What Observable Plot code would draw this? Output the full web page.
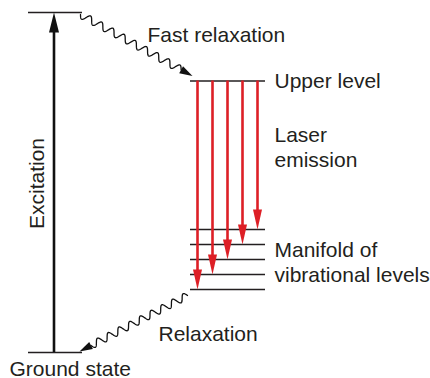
<!DOCTYPE html>
<html><head><meta charset="utf-8">
<script src="https://cdn.jsdelivr.net/npm/d3@7"></script>
<script src="https://cdn.jsdelivr.net/npm/@observablehq/plot@0.6"></script>
<style>
html,body{margin:0;padding:0;background:#fff;}
#chart{width:430px;height:378px;}
</style>
</head><body><div id="chart"></div>
<script>
// ---------- data (energies in arbitrary units) ----------
const groundEnergy = 0;
const pumpEnergy = 340;
const upperEnergy = 271.5;
const manifoldEnergies = [123, 108, 93, 78, 63];
const emissionTargets = [63, 78, 93, 108, 123];   // leftmost arrow goes lowest
const levelLabels = ["Upper level", "Manifold of\nvibrational levels", "Ground state"];
const processLabels = ["Excitation", "Fast relaxation", "Laser\nemission", "Relaxation"];

// ---------- layout ----------
const W = 430, H = 378;
const pumpCol = [28, 82];
const laserCol = [190, 265];
const excitationX = 53.5;
const emissionX = [197, 212, 227, 242, 257];
const ink = "#231f20";
const red = "#dd1f26";
const font = "'Liberation Sans', Arial, Helvetica, sans-serif";

// filled arrowhead symbol, tip at the anchor, pointing up at rotate 0
function headSymbol(len, wid) {
  return {draw(ctx) {
    ctx.moveTo(0, 0); ctx.lineTo(wid / 2, len); ctx.lineTo(-wid / 2, len); ctx.closePath();
  }};
}

// wavy (squiggle) connector drawn in data units (1 unit = 1 px on both axes)
function squiggle(p0, tip, headLen, periods, amp) {
  const dx = tip[0] - p0[0], dy = -(tip[1] - p0[1]);
  const L = Math.hypot(dx, dy), ux = dx / L, uy = dy / L, nx = -uy, ny = ux;
  const Lw = L - headLen, N = 300, pts = [];
  for (let i = 0; i <= N; i++) {
    const s = (i / N) * Lw, o = amp * Math.sin(2 * Math.PI * periods * i / N);
    pts.push({x: p0[0] + ux * s + nx * o, E: -(-p0[1] + uy * s + ny * o)});
  }
  return {pts, tip: {x: tip[0], E: tip[1]}, angle: Math.atan2(ux, -uy) * 180 / Math.PI};
}

const levels = [
  {E: pumpEnergy, x1: pumpCol[0], x2: pumpCol[1]},
  {E: groundEnergy, x1: pumpCol[0], x2: pumpCol[1]},
  {E: upperEnergy, x1: laserCol[0], x2: laserCol[1]},
  ...manifoldEnergies.map(E => ({E, x1: laserCol[0], x2: laserCol[1]}))
];
const emissions = emissionTargets.map((E, i) => ({x: emissionX[i], E0: upperEnergy, E1: E}));

const fast = squiggle([80, pumpEnergy - 2], [192, upperEnergy + 5], 13, 9, 3.6);
const slow = squiggle([187, manifoldEnergies[4] - 6], [79, groundEnergy + 1], 13, 9, 3.6);

const labels = [
  {t: levelLabels[0], x: 274, E: upperEnergy, anchor: "start", line: "middle", rot: 0},
  {t: levelLabels[1], x: 274, E: 70.3, anchor: "start", line: "bottom", rot: 0, lh: 1.19},
  {t: levelLabels[2], x: 9, E: -23, anchor: "start", line: "bottom", rot: 0},
  {t: processLabels[0], x: 43.5, E: 169, anchor: "middle", line: "bottom", rot: -90},
  {t: processLabels[1], x: 147, E: 310.5, anchor: "start", line: "bottom", rot: 0},
  {t: processLabels[2], x: 274, E: 186, anchor: "start", line: "bottom", rot: 0, lh: 1.17},
  {t: processLabels[3], x: 158, E: 12, anchor: "start", line: "bottom", rot: 0}
];

const textMarks = labels.map(d => Plot.text([d], {
  x: "x", y: "E", text: "t", textAnchor: d.anchor, lineAnchor: d.line, rotate: d.rot,
  lineHeight: d.lh || 1, fontSize: 21, fontFamily: font, fill: ink
}));

const chart = Plot.plot({
  width: W, height: H, margin: 0,
  x: {domain: [0, W], range: [0, W], axis: null},
  y: {domain: [-26, 352], range: [H, 0], axis: null},
  style: {background: "#fff", overflow: "visible"},
  marks: [
    Plot.ruleY(levels, {y: "E", x1: "x1", x2: "x2", stroke: ink, strokeWidth: 1.5}),
    // excitation arrow
    Plot.ruleX([excitationX], {x: d => d, y1: pumpEnergy, y2: groundEnergy, insetTop: 16, stroke: "#111", strokeWidth: 2.6}),
    Plot.dot([excitationX], {x: d => d, y: pumpEnergy, symbol: headSymbol(20, 10), fill: "#111", stroke: "none", rotate: 0}),
    // laser emission arrows
    Plot.ruleX(emissions, {x: "x", y1: "E0", y2: "E1", insetBottom: 15, stroke: red, strokeWidth: 2.6}),
    Plot.dot(emissions, {x: "x", y: "E1", symbol: headSymbol(20, 9), fill: red, stroke: "none", rotate: 180}),
    // relaxation squiggles
    Plot.line(fast.pts, {x: "x", y: "E", stroke: "#111", strokeWidth: 1.3, curve: "linear"}),
    Plot.dot([fast.tip], {x: "x", y: "E", symbol: headSymbol(13, 8), fill: "#111", stroke: "none", rotate: fast.angle}),
    Plot.line(slow.pts, {x: "x", y: "E", stroke: "#111", strokeWidth: 1.3, curve: "linear"}),
    Plot.dot([slow.tip], {x: "x", y: "E", symbol: headSymbol(13, 8), fill: "#111", stroke: "none", rotate: slow.angle}),
    ...textMarks
  ]
});
document.getElementById("chart").append(chart);
</script>
</body></html>
